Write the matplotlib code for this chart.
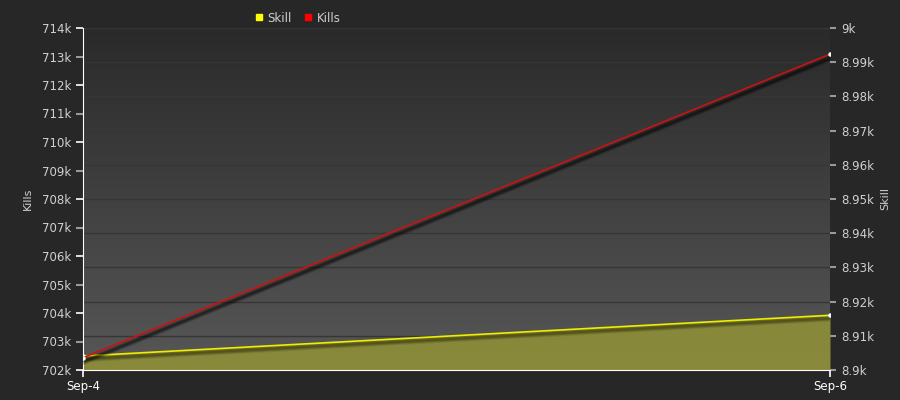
import numpy as np
import matplotlib
matplotlib.use("Agg")
import matplotlib.pyplot as plt
import matplotlib.dates as mdates
import matplotlib.patheffects as pe
from matplotlib.lines import Line2D
from matplotlib.colors import LinearSegmentedColormap

dates = np.array(["2023-09-04", "2023-09-06"], dtype="datetime64[D]")
kills = [702430, 713080]
skill = [8904.1, 8916.0]

plt.rcParams['font.family'] = ['DejaVu Sans']
bg = '#272727'
txt = '#d0d0d0'

fig = plt.figure(figsize=(9, 4), dpi=100, facecolor=bg)
ax = fig.add_axes([83/900, 30/400, 747/900, 342/400])
ax2 = ax.twinx()

# gradient background of the plot area
cmap = LinearSegmentedColormap.from_list('bgg', ['#2a2a2a', '#575757'])
grad = np.linspace(0, 1, 256).reshape(-1, 1)
ax.imshow(grad, cmap=cmap, aspect='auto', extent=[0, 1, 0, 1],
          transform=ax.transAxes, zorder=0)
ax.set_facecolor('none')
ax2.patch.set_visible(False)

xn = mdates.date2num(dates)


def soft_shadow(col, dx, dy):
    # a few stacked shadows so it looks blurred
    return [pe.SimpleLineShadow(offset=(dx, dy), shadow_color=col, alpha=0.15, linewidth=4.5),
            pe.SimpleLineShadow(offset=(dx, dy), shadow_color=col, alpha=0.25, linewidth=3),
            pe.SimpleLineShadow(offset=(dx, dy), shadow_color=col, alpha=0.3, linewidth=1.5),
            pe.Normal()]


# Skill on the base axes (ticks on right)
ax.fill_between(xn, skill, 8900, color='#8c8c3a', alpha=0.95, zorder=2, linewidth=0)
ax.plot(xn, skill, color='#eeee00', lw=1.2, zorder=3,
        path_effects=soft_shadow('#2a2a05', 1, -2.2))
ax.plot(xn, skill, 'o', color='white', ms=2.2, zorder=4)
ax.set_ylim(8900, 9000)
ax.set_yticks(np.arange(8900, 9001, 10))
ax.set_yticklabels(['8.9k', '8.91k', '8.92k', '8.93k', '8.94k', '8.95k',
                    '8.96k', '8.97k', '8.98k', '8.99k', '9k'])
ax.yaxis.tick_right()
ax.yaxis.set_label_position('right')
ax.set_ylabel('Skill', color=txt, fontsize=8)
ax.yaxis.set_label_coords(1.067, 0.5)
ax.grid(axis='y', color='#363636', lw=1, zorder=1)
ax.tick_params(axis='y', colors='#999999', labelcolor=txt, labelsize=8.5, length=4, width=1.5, pad=4)

# Kills on the twin (ticks on left)
ax2.plot(xn, kills, color='#cc1111', lw=1.2, zorder=5,
         path_effects=soft_shadow('black', 1.5, -2.5))
ax2.plot(xn, kills, 'o', color='white', ms=2.2, zorder=6)
ax2.set_ylim(702000, 714000)
ax2.yaxis.tick_left()
ax2.yaxis.set_label_position('left')
ax2.set_yticks(np.arange(702000, 714001, 2000))
ax2.set_yticks(np.arange(703000, 714000, 2000), minor=True)
fmt = lambda v, p: '%dk' % round(v / 1000)
ax2.yaxis.set_major_formatter(plt.FuncFormatter(fmt))
ax2.yaxis.set_minor_formatter(plt.FuncFormatter(fmt))
ax2.tick_params(axis='y', which='major', colors='white', labelcolor=txt, labelsize=8.5, length=5, width=1.2)
ax2.tick_params(axis='y', which='minor', colors='#999999', labelcolor=txt, labelsize=8.5, length=5, width=1.5)
ax2.set_ylabel('Kills', color=txt, fontsize=8)
ax2.yaxis.set_label_coords(-0.067, 0.5)

ax.set_xlim(xn[0], xn[-1])
ax.set_xticks(xn)
ax.xaxis.set_major_formatter(mdates.DateFormatter('%b-%-d'))
ax.tick_params(axis='x', colors='white', labelcolor='white', labelsize=8.5, length=5, width=1.2, pad=2)

for a in (ax, ax2):
    for s in ('top', 'right', 'left', 'bottom'):
        a.spines[s].set_visible(False)
ax2.spines['left'].set_visible(True)
ax2.spines['left'].set_color('white')
ax.spines['bottom'].set_visible(True)
ax.spines['bottom'].set_color('white')

handles = [Line2D([], [], ls='none', marker='s', ms=4, color='#ffff00'),
           Line2D([], [], ls='none', marker='s', ms=4, color='#ff0000')]
fig.legend(handles, ['Skill', 'Kills'], loc='center', bbox_to_anchor=(0.33, 0.955),
           ncol=2, frameon=False, fontsize=8.5, labelcolor=txt,
           handletextpad=0.2, columnspacing=0.9, handlelength=1)

fig.savefig('out.png', dpi=100, facecolor=bg)
